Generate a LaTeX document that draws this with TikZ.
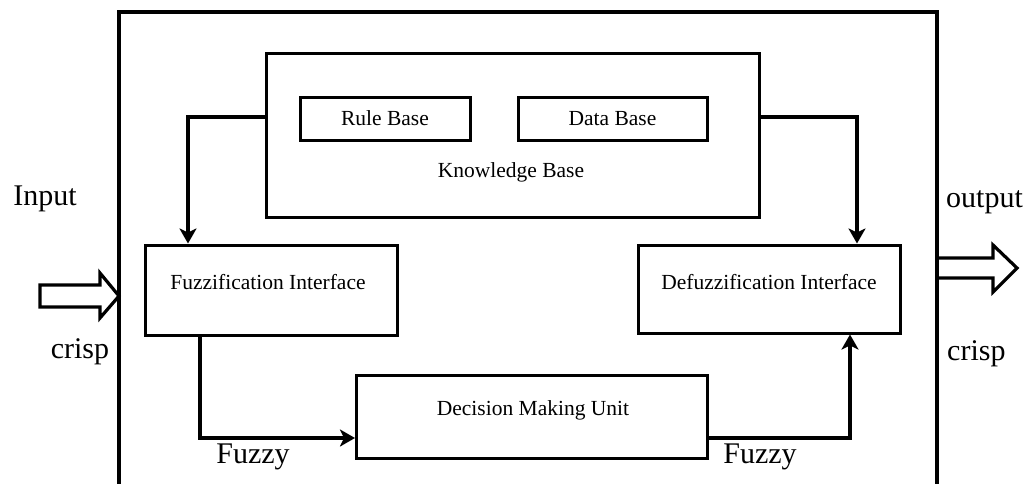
\documentclass[tikz,border=0pt]{standalone}
\usepackage{fontspec}
\setmainfont{Liberation Serif}
\usetikzlibrary{arrows.meta,calc}
\begin{document}
\begin{tikzpicture}[x=1pt,y=-1pt,
  box/.style={draw,line width=3pt,minimum width=#1,inner sep=0pt},
  boxlbl/.style={font=\fontsize{21.5}{24}\selectfont,inner sep=0pt},
  biglbl/.style={font=\fontsize{30}{33}\selectfont,inner sep=0pt},
  conn/.style={line width=3.2pt,-{Stealth[length=15pt,width=17pt,inset=4pt]}},
  hollow/.style={line width=3.2pt,line join=miter}]
\useasboundingbox (0,0) rectangle (1029,483);
% outer frame (open at bottom)
\draw[line width=3.2pt] (119,486) |- (937,12) -- (937,486);
% knowledge base
\node[box=493pt,minimum height=164pt] (kb) at (512.5,135) {};
\node[box=170pt,minimum height=43pt,boxlbl] (rb) at (385,118.5) {Rule Base};
\node[box=189pt,minimum height=43pt,boxlbl] (db) at (612.5,118.5) {Data Base};
\node[boxlbl] (kbl) at (511,172) {Knowledge Base};
% interfaces
\node[box=252pt,minimum height=90pt] (fuzz) at (271,290) {};
\node[boxlbl] (fuzzl) at (268,282) {Fuzzification Interface};
\node[box=262pt,minimum height=88pt] (def) at (769,289) {};
\node[boxlbl] (defl) at (769,282) {Defuzzification Interface};
\node[box=351pt,minimum height=83pt] (dec) at (532,416.5) {};
\node[boxlbl] (decl) at (533,410) {Decision Making Unit};
% connectors
\draw[conn] ([yshift=18pt]kb.west) -| ([xshift=-83pt]fuzz.north);
\draw[conn] ([yshift=18pt]kb.east) -| ([xshift=88pt]def.north);
\draw[conn] ([xshift=-71pt]fuzz.south) |- ([yshift=-21.5pt]dec.west);
\draw[conn] ([yshift=-21.5pt]dec.east) -| ([xshift=81pt]def.south);
% input / output hollow arrows
\draw[hollow] (40,285) -- (100,285) -- (100,273) -- (119,296) -- (100,318) -- (100,307) -- (40,307) -- cycle;
\draw[hollow] (937,258) -- (993,258) -- (993,245) -- (1017,268) -- (993,292) -- (993,278) -- (937,278);
% labels
\node[biglbl] (inp) at (45,199) {Input};
\node[biglbl] (cin) at (80,352) {crisp};
\node[biglbl,anchor=west] (outp) at (946,202) {output};
\node[biglbl,anchor=west] (cout) at (947,354) {crisp};
\node[biglbl] (fz1) at (253,457) {Fuzzy};
\node[biglbl] (fz2) at (760,457) {Fuzzy};
\end{tikzpicture}
\end{document}
